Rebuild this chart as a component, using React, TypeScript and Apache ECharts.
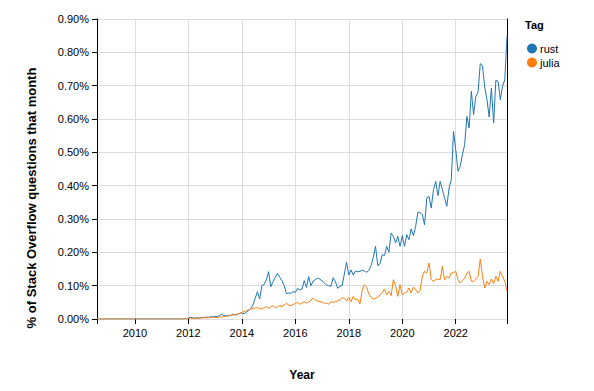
import React, { useEffect, useRef } from "react";
import * as echarts from "echarts";

// Monthly series, first month = Aug 2008, last month = Dec 2023 (% of SO questions)
const START_YEAR = 2008;
const START_MONTH = 8;

const TAGS = ["rust", "julia"];
const COLORS = ["#1f77b4", "#ff7f0e"];

const RUST: number[] = [
  // 2008 Aug-Dec
  0, 0, 0, 0, 0,
  // 2009
  0, 0, 0, 0, 0, 0, 0, 0, 0, 0, 0, 0,
  // 2010
  0, 0, 0, 0, 0, 0, 0, 0, 0, 0, 0, 0,
  // 2011
  0, 0, 0, 0, 0, 0, 0, 0, 0, 0, 0, 0,
  // 2012
  0.003, 0.005, 0.004, 0.002, 0.004, 0.003, 0.005, 0.004, 0.006, 0.005, 0.007, 0.006,
  // 2013
  0.008, 0.007, 0.010, 0.014, 0.010, 0.009, 0.011, 0.010, 0.015, 0.012, 0.013, 0.017,
  // 2014
  0.018, 0.016, 0.020, 0.025, 0.032, 0.042, 0.062, 0.082, 0.060, 0.100, 0.104, 0.117,
  // 2015
  0.142, 0.097, 0.112, 0.125, 0.137, 0.125, 0.115, 0.100, 0.076, 0.078, 0.077, 0.082,
  // 2016
  0.080, 0.092, 0.087, 0.090, 0.115, 0.095, 0.127, 0.100, 0.114, 0.118, 0.122, 0.120,
  // 2017
  0.114, 0.108, 0.102, 0.100, 0.098, 0.124, 0.112, 0.092, 0.098, 0.100, 0.135, 0.170,
  // 2018
  0.132, 0.147, 0.132, 0.144, 0.142, 0.143, 0.146, 0.144, 0.140, 0.146, 0.160, 0.185,
  // 2019
  0.218, 0.160, 0.165, 0.193, 0.190, 0.218, 0.200, 0.258, 0.248, 0.228, 0.248, 0.218,
  // 2020
  0.250, 0.218, 0.253, 0.238, 0.270, 0.250, 0.278, 0.320, 0.320, 0.313, 0.283, 0.363,
  // 2021
  0.368, 0.333, 0.388, 0.413, 0.370, 0.413, 0.388, 0.363, 0.338, 0.393, 0.418, 0.563,
  // 2022
  0.508, 0.443, 0.458, 0.493, 0.523, 0.608, 0.573, 0.683, 0.613, 0.668, 0.680, 0.766,
  // 2023
  0.760, 0.696, 0.658, 0.606, 0.693, 0.588, 0.716, 0.713, 0.658, 0.698, 0.718, 0.848,
];

const JULIA: number[] = [
  // 2008 Aug-Dec
  0, 0, 0, 0, 0,
  // 2009
  0, 0, 0, 0, 0, 0, 0, 0, 0, 0, 0, 0,
  // 2010
  0, 0, 0, 0, 0, 0, 0, 0, 0, 0, 0, 0,
  // 2011
  0, 0, 0, 0, 0, 0, 0, 0, 0, 0, 0, 0,
  // 2012
  0.001, 0.002, 0.002, 0.003, 0.002, 0.003, 0.003, 0.004, 0.003, 0.004, 0.004, 0.005,
  // 2013
  0.005, 0.004, 0.006, 0.006, 0.007, 0.008, 0.009, 0.011, 0.012, 0.013, 0.015, 0.017,
  // 2014
  0.020, 0.022, 0.025, 0.028, 0.030, 0.032, 0.033, 0.034, 0.031, 0.030, 0.034, 0.037,
  // 2015
  0.032, 0.036, 0.040, 0.034, 0.037, 0.040, 0.037, 0.042, 0.047, 0.042, 0.040, 0.044,
  // 2016
  0.046, 0.050, 0.044, 0.048, 0.052, 0.048, 0.050, 0.057, 0.062, 0.057, 0.054, 0.052,
  // 2017
  0.050, 0.047, 0.048, 0.044, 0.052, 0.050, 0.052, 0.054, 0.058, 0.064, 0.062, 0.054,
  // 2018
  0.065, 0.052, 0.068, 0.058, 0.060, 0.045, 0.085, 0.103, 0.095, 0.075, 0.065, 0.060,
  // 2019
  0.062, 0.066, 0.072, 0.078, 0.090, 0.073, 0.083, 0.070, 0.118, 0.100, 0.068, 0.103,
  // 2020
  0.073, 0.078, 0.080, 0.093, 0.078, 0.096, 0.088, 0.078, 0.085, 0.128, 0.143, 0.138,
  // 2021
  0.168, 0.118, 0.113, 0.118, 0.120, 0.118, 0.158, 0.118, 0.128, 0.123, 0.138, 0.140,
  // 2022
  0.143, 0.118, 0.108, 0.115, 0.123, 0.138, 0.143, 0.113, 0.113, 0.120, 0.128, 0.180,
  // 2023
  0.128, 0.093, 0.113, 0.103, 0.120, 0.106, 0.128, 0.113, 0.143, 0.128, 0.113, 0.083,
];

const Y_MIN = 0;
const Y_MAX = 0.9;
const Y_STEP = 0.1;

const Y_TITLE = "% of Stack Overflow questions that month";
const X_TITLE = "Year";
const LEGEND_TITLE = "Tag";

const FONT = "Liberation Sans";

function toSeries(values: number[]) {
  return values.map((v, i) => [START_YEAR + (START_MONTH - 1 + i) / 12, v]);
}

export default function App() {
  const ref = useRef<HTMLDivElement>(null);

  useEffect(() => {
    if (!ref.current) return;
    const chart = echarts.init(ref.current, undefined, { renderer: "svg" });
    const xMin = START_YEAR + (START_MONTH - 1) / 12;
    const xMax = START_YEAR + (START_MONTH - 1 + RUST.length - 1) / 12;
    const seriesData = [RUST, JULIA];

    chart.setOption({
      animation: false,
      backgroundColor: "#ffffff",
      textStyle: { fontFamily: FONT },
      grid: { left: 97, right: 87, top: 19, bottom: 72, containLabel: false },
      legend: {
        orient: "vertical",
        left: 522,
        top: 38,
        icon: "circle",
        itemWidth: 10,
        itemHeight: 10,
        itemGap: 3,
        textStyle: { fontSize: 11, color: "#000", fontFamily: FONT, padding: [0, 0, 0, -2] },
        data: TAGS,
      },
      graphic: [
        {
          type: "text",
          left: 525,
          top: 19,
          style: { text: LEGEND_TITLE, fontSize: 11, fontWeight: "bold", fill: "#000", fontFamily: FONT },
        },
        {
          type: "text",
          x: 31,
          y: 198,
          rotation: Math.PI / 2,
          style: {
            text: Y_TITLE,
            fontSize: 13,
            fontWeight: "bold",
            fill: "#000",
            fontFamily: FONT,
            align: "center",
            verticalAlign: "middle",
          },
        },
      ],
      xAxis: {
        type: "value",
        min: xMin,
        max: xMax,
        splitNumber: 8,
        name: X_TITLE,
        nameLocation: "middle",
        nameGap: 50,
        nameTextStyle: { fontSize: 12, fontWeight: "bold", color: "#000", fontFamily: FONT },
        axisLine: { show: false },
        axisTick: { show: true, length: 5, lineStyle: { color: "#000" } },
        axisLabel: {
          fontSize: 11,
          color: "#000",
          margin: 8,
          formatter: (v: number) => (Math.abs(v - Math.round(v)) < 1e-6 ? String(Math.round(v)) : ""),
        },
        splitLine: { show: true, lineStyle: { color: "#dddddd", width: 1 } },
      },
      yAxis: [
        {
          type: "value",
          min: Y_MIN,
          max: Y_MAX,
          interval: Y_STEP,
          axisLine: { show: true, lineStyle: { color: "#000", width: 1 } },
          axisTick: { show: true, length: 5, lineStyle: { color: "#000" } },
          axisLabel: {
            fontSize: 11,
            color: "#000",
            margin: 8,
            formatter: (v: number) => v.toFixed(2) + "%",
          },
          splitLine: { show: true, lineStyle: { color: "#dddddd", width: 1 } },
        },
        {
          type: "value",
          position: "right",
          min: Y_MIN,
          max: Y_MAX,
          interval: Y_STEP,
          axisLine: { show: true, lineStyle: { color: "#000", width: 1 } },
          axisTick: { show: false },
          axisLabel: { show: false },
          splitLine: { show: false },
        },
      ],
      series: TAGS.map((name, i) => ({
        name,
        type: "line",
        data: toSeries(seriesData[i]),
        showSymbol: false,
        symbol: "circle",
        lineStyle: { width: 1, color: COLORS[i] },
        itemStyle: { color: COLORS[i] },
        z: 3 + i,
      })),
    });

    return () => chart.dispose();
  }, []);

  return (
    <div
      ref={ref}
      style={{ position: "absolute", left: 0, top: 0, width: 594, height: 391, background: "#fff" }}
    />
  );
}
